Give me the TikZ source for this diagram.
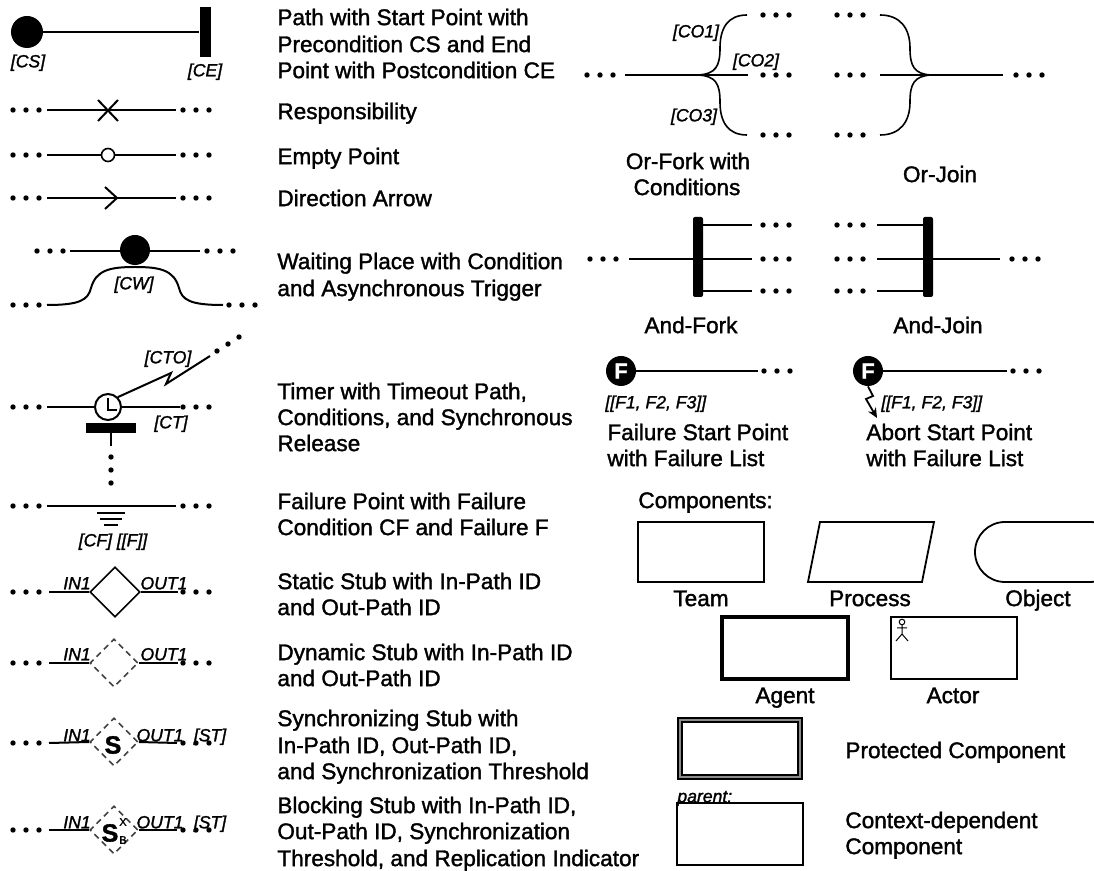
\documentclass[tikz,border=0pt]{standalone}
\usepackage{fontspec}
\setmainfont{Liberation Sans}[FakeBold=1.5]
\usetikzlibrary{shapes.geometric,arrows.meta}
\newcommand{\tdots}[2]{\foreach \dx in {0,13,26}{\fill ({#1+\dx},#2) circle[radius=1.35pt];}}
\tikzset{
  pl/.style={line width=1pt},
  thin line/.style={line width=0.8pt},
  dsc/.style={anchor=west, inner sep=0pt, font=\fontsize{11.3}{13}\selectfont, text height=8.1pt, text depth=0pt},
  dscc/.style={dsc, anchor=center},
  cond/.style={inner sep=0pt, font=\fontsize{8.8}{10}\itshape\selectfont, text height=6.3pt, text depth=0pt},
  condw/.style={cond, anchor=west},
  stubd/.style={diamond, draw, inner sep=0pt, line width=0.8pt},
  dstub/.style={stubd, dashed, dash pattern=on 3pt off 2.2pt, draw=black!75},
  bar/.style={fill, inner sep=0pt, rounded corners=1pt},
  comp/.style={draw, line width=0.9pt}
}
\begin{document}
\begin{tikzpicture}[x=0.5pt,y=-0.5pt]
\useasboundingbox (0,0) rectangle (1094,871);

% ---------- Start / End point
\node[circle,fill,minimum size=16pt,inner sep=0pt] (cs) at (27,32) {};
\node[fill,minimum width=5.5pt,minimum height=25pt,inner sep=0pt] (ce) at (205,32) {};
\draw[pl] (cs) -- (ce);
\node[cond] (lcs) at (28,61) {[CS]};
\node[cond] (lce) at (205,70) {[CE]};
\node[dsc] (d1a) at (277,17) {Path with Start Point with};
\node[dsc] (d1b) at (277,44) {Precondition CS and End};
\node[dsc] (d1c) at (277,70) {Point with Postcondition CE};

% ---------- Responsibility
\tdots{13}{110} \tdots{183}{110}
\coordinate (r1) at (47,110); \coordinate (r2) at (176,110);
\draw[pl] (r1) -- (r2);
\draw[pl] (98,100) -- (118,121) (98,121) -- (118,100);
\node[dsc] (d2) at (277,111) {Responsibility};

% ---------- Empty point
\tdots{13}{155} \tdots{183}{155}
\coordinate (e1) at (47,155); \coordinate (e2) at (176,155);
\draw[pl] (e1) -- (e2);
\node[circle,draw,fill=white,minimum size=6.5pt,inner sep=0pt,line width=0.8pt] (ep) at (108,155) {};
\node[dsc] (d3) at (277,156) {Empty Point};

% ---------- Direction arrow
\tdots{13}{198} \tdots{183}{198}
\coordinate (a1) at (47,198); \coordinate (a2) at (176,198);
\draw[pl] (a1) -- (a2);
\draw[pl] (105,187) -- (117,198) -- (105,209);
\node[dsc] (d4) at (277,198) {Direction Arrow};

% ---------- Waiting place
\tdots{37}{251} \tdots{207}{251}
\coordinate (w1) at (70,251); \coordinate (w2) at (200,251);
\draw[pl] (w1) -- (w2);
\node[circle,fill,minimum size=15pt,inner sep=0pt] (wp) at (135,250) {};
\tdots{13}{305} \tdots{229}{305}
\coordinate (w3) at (47,305); \coordinate (w4) at (223,305);
\draw[pl] (w3) .. controls (80,305) and (88,300) .. (91,288)
  .. controls (96,270) and (110,267) .. (135,267)
  .. controls (160,267) and (174,270) .. (179,288)
  .. controls (182,300) and (190,305) .. (w4);
\node[cond] (lcw) at (134,283) {[CW]};
\node[dsc] (d5a) at (277,261) {Waiting Place with Condition};
\node[dsc] (d5b) at (277,288) {and Asynchronous Trigger};

% ---------- Timer
\tdots{13}{407} \tdots{183}{407}
\coordinate (t1) at (47,407); \coordinate (t2) at (180,407);
\node[circle,draw,fill=white,minimum size=13pt,inner sep=0pt,line width=1pt] (clk) at (108,407) {};
\draw[pl] (t1) -- (clk.west);
\draw[pl] (clk.east) -- (t2);
\draw[line width=0.9pt] (108,398) -- (108,410) -- (117,410);
\node[fill,minimum width=25pt,minimum height=5pt,inner sep=0pt] (tb) at (111,428) {};
\coordinate (tv) at (111,446);
\draw[pl] (tb.south) -- (tv);
\foreach \yy in {457,470,483}{\fill (111,\yy) circle[radius=1.35pt];}
\coordinate (to) at (210,356);
\draw[pl] (clk.north east) -- (171,373) -- (166,384) -- (to);
\fill (217,351) circle[radius=1.35pt];
\fill (228,344) circle[radius=1.35pt];
\fill (239,337) circle[radius=1.35pt];
\node[cond] (lcto) at (168,357) {[CTO]};
\node[cond] (lct) at (171,422) {[CT]};
\node[dsc] (d6a) at (277,391) {Timer with Timeout Path,};
\node[dsc] (d6b) at (277,417) {Conditions, and Synchronous};
\node[dsc] (d6c) at (277,443) {Release};

% ---------- Failure point
\tdots{13}{506} \tdots{183}{506}
\coordinate (f1) at (47,506); \coordinate (f2) at (176,506);
\draw[pl] (f1) -- (f2);
\draw[line width=1pt] (97,513) -- (125,513) (100,519) -- (122,519) (104,525) -- (118,525);
\node[cond] (lcf) at (113,540) {[CF] [[F]]};
\node[dsc] (d7a) at (277,501) {Failure Point with Failure};
\node[dsc] (d7b) at (277,527) {Condition CF and Failure F};

% ---------- Static stub
\tdots{13}{592} \tdots{183}{592}
\node[stubd,minimum size=25pt] (st) at (115,592) {};
\coordinate (s1) at (49,592); \coordinate (s2) at (178,592);
\draw[pl] (s1) -- (st.west);
\draw[pl] (st.east) -- (s2);
\node[cond] (lsi) at (77,583) {IN1};
\node[cond] (lso) at (164,583) {OUT1};
\node[dsc] (d8a) at (277,581) {Static Stub with In-Path ID};
\node[dsc] (d8b) at (277,607) {and Out-Path ID};

% ---------- Dynamic stub
\tdots{13}{663} \tdots{183}{663}
\node[dstub,minimum size=24pt] (dy) at (114,663) {};
\coordinate (y1) at (49,663); \coordinate (y2) at (178,663);
\draw[pl] (y1) -- (dy.west);
\draw[pl] (dy.east) -- (y2);
\node[cond] (ldi) at (77,654) {IN1};
\node[cond] (ldo) at (164,654) {OUT1};
\node[dsc] (d9a) at (277,652) {Dynamic Stub with In-Path ID};
\node[dsc] (d9b) at (277,678) {and Out-Path ID};

% ---------- Synchronizing stub
\tdots{13}{743} \tdots{183}{743}
\node[dstub,minimum size=24pt] (sy) at (114,742) {};
\coordinate (z1) at (49,743); \coordinate (z2) at (177,743);
\draw[pl] (z1) -- (sy.west);
\draw[pl] (sy.east) -- (z2);
\node[inner sep=0pt,font=\fontsize{12.5}{14}\bfseries\selectfont] (syS) at (113,745) {S};
\node[cond] (lyi) at (77,735) {IN1};
\node[cond] (lyo) at (160,735) {OUT1};
\node[cond] (lyt) at (210,735) {[ST]};
\node[dsc] (d10a) at (277,718) {Synchronizing Stub with};
\node[dsc] (d10b) at (277,745) {In-Path ID, Out-Path ID,};
\node[dsc] (d10c) at (277,771) {and Synchronization Threshold};

% ---------- Blocking stub
\tdots{13}{830} \tdots{183}{830}
\node[dstub,minimum size=24pt] (bl) at (114,830) {};
\coordinate (b1) at (49,830); \coordinate (b2) at (177,830);
\draw[pl] (b1) -- (bl.west);
\draw[pl] (bl.east) -- (b2);
\node[inner sep=0pt,font=\fontsize{12.5}{14}\bfseries\selectfont] (blS) at (110,833) {S};
\node[inner sep=0pt,font=\fontsize{5.5}{6}\selectfont] (blX) at (123,822) {X};
\node[inner sep=0pt,font=\fontsize{5.5}{6}\selectfont] (blB) at (123,840) {B};
\node[cond] (lbi) at (77,822) {IN1};
\node[cond] (lbo) at (160,822) {OUT1};
\node[cond] (lbt) at (210,822) {[ST]};
\node[dsc] (d11a) at (277,805) {Blocking Stub with In-Path ID,};
\node[dsc] (d11b) at (277,831) {Out-Path ID, Synchronization};
\node[dsc] (d11c) at (277,858) {Threshold, and Replication Indicator};

% ---------- Or-Fork
\tdots{587}{75}
\coordinate (of0) at (625,75); \coordinate (of) at (698,75);
\coordinate (of1) at (747,15); \coordinate (of2) at (748,75); \coordinate (of3) at (747,135);
\draw[thin line] (of0) -- (of) -- (of2);
\draw[thin line] (of) .. controls (716,74) and (720,66) .. (720,48) .. controls (720,28) and (728,15) .. (of1);
\draw[thin line] (of) .. controls (716,76) and (720,84) .. (720,102) .. controls (720,122) and (728,135) .. (of3);
\tdots{763}{15} \tdots{763}{75} \tdots{763}{135}
\node[cond] (lco1) at (696,31) {[CO1]};
\node[cond] (lco2) at (756,60) {[CO2]};
\node[cond] (lco3) at (694,115) {[CO3]};
\node[dscc] (dof1) at (688,161) {Or-Fork with};
\node[dscc] (dof2) at (687,187) {Conditions};

% ---------- Or-Join
\tdots{837}{15} \tdots{837}{75} \tdots{837}{135}
\coordinate (oj1) at (880,15); \coordinate (oj2) at (880,75); \coordinate (oj3) at (880,135);
\coordinate (oj) at (931,75); \coordinate (oj4) at (1003,75);
\draw[thin line] (oj2) -- (oj) -- (oj4);
\draw[thin line] (oj1) .. controls (900,15) and (910,28) .. (910,48) .. controls (910,66) and (914,74) .. (oj);
\draw[thin line] (oj3) .. controls (900,135) and (910,122) .. (910,102) .. controls (910,84) and (914,76) .. (oj);
\tdots{1016}{75}
\node[dscc] (doj) at (940,174) {Or-Join};

% ---------- And-Fork
\tdots{590}{259}
\node[bar,minimum width=5pt,minimum height=40pt] (afb) at (698,257) {};
\coordinate (af0) at (629,259);
\coordinate (af1) at (752,225); \coordinate (af2) at (752,259); \coordinate (af3) at (752,291);
\draw[thin line] (af0) -- (af0 -| afb.west);
\draw[thin line] (afb.east |- af1) -- (af1);
\draw[thin line] (afb.east |- af2) -- (af2);
\draw[thin line] (afb.east |- af3) -- (af3);
\tdots{763}{225} \tdots{763}{259} \tdots{763}{291}
\node[dscc] (daf) at (691,325) {And-Fork};

% ---------- And-Join
\tdots{837}{225} \tdots{837}{259} \tdots{837}{291}
\node[bar,minimum width=5pt,minimum height=40pt] (ajb) at (928,257) {};
\coordinate (aj1) at (877,225); \coordinate (aj2) at (877,259); \coordinate (aj3) at (877,291);
\coordinate (aj4) at (1000,259);
\draw[thin line] (aj1) -- (aj1 -| ajb.west);
\draw[thin line] (aj2) -- (aj2 -| ajb.west);
\draw[thin line] (aj3) -- (aj3 -| ajb.west);
\draw[thin line] (ajb.east |- aj4) -- (aj4);
\tdots{1012}{259}
\node[dscc] (daj) at (938,325) {And-Join};

% ---------- Failure start point
\node[circle,fill,minimum size=15pt,inner sep=0pt,text=white,font=\fontsize{11}{12}\bfseries\selectfont] (fs) at (621,371) {F};
\coordinate (fse) at (758,371);
\draw[pl] (fs) -- (fse);
\tdots{764}{371}
\node[condw] (lfs) at (605,402) {[[F1, F2, F3]]};
\node[dsc] (dfs1) at (607,432) {Failure Start Point};
\node[dsc] (dfs2) at (607,458) {with Failure List};

% ---------- Abort start point
\node[circle,fill,minimum size=15pt,inner sep=0pt,text=white,font=\fontsize{11}{12}\bfseries\selectfont] (as) at (868,371) {F};
\coordinate (ase) at (1007,371);
\draw[pl] (as) -- (ase);
\tdots{1013}{371}
\coordinate (asa) at (877,418);
\draw[line width=0.9pt,-{Stealth[length=5pt,width=4.5pt]}] (as.south) -- (873,396) -- (866,399) -- (asa);
\node[condw] (lab) at (881,402) {[[F1, F2, F3]]};
\node[dsc] (das1) at (866,432) {Abort Start Point};
\node[dsc] (das2) at (866,458) {with Failure List};

% ---------- Components
\node[dsc] (dcomp) at (638,500) {Components:};
\draw[comp] (638,522) rectangle (764,582);
\node[dscc] (lteam) at (701,598) {Team};
\draw[comp] (820,522) -- (934,522) -- (922,582) -- (808,582) -- cycle;
\node[dscc] (lproc) at (870,598) {Process};
\draw[comp,rounded corners=15pt] (975,522) rectangle (1120,582);
\node[dscc] (lobj) at (1038,598) {Object};
\draw[draw,line width=2pt] (722,617) rectangle (848,679);
\node[dscc] (lagent) at (785,695) {Agent};
\draw[comp] (891,617) rectangle (1017,679);
\draw[line width=0.5pt] (902,622) circle[radius=1.4pt];
\draw[line width=0.5pt] (902,625) -- (902,634) (897,628) -- (907,628) (896,641) -- (902,634) -- (908,641);
\node[dscc] (lactor) at (953,695) {Actor};

% protected
\draw[line width=0.7pt, double=black!45, double distance=1.4pt] (680,720) rectangle (800,777);
\node[dsc] (dprot) at (845,750) {Protected Component};

% context dependent
\node[condw] (lpar) at (677,796) {parent:};
\draw[comp] (677,803) rectangle (803,865);
\node[dsc] (dctx1) at (845,820) {Context-dependent};
\node[dsc] (dctx2) at (845,846) {Component};
\end{tikzpicture}
\end{document}
